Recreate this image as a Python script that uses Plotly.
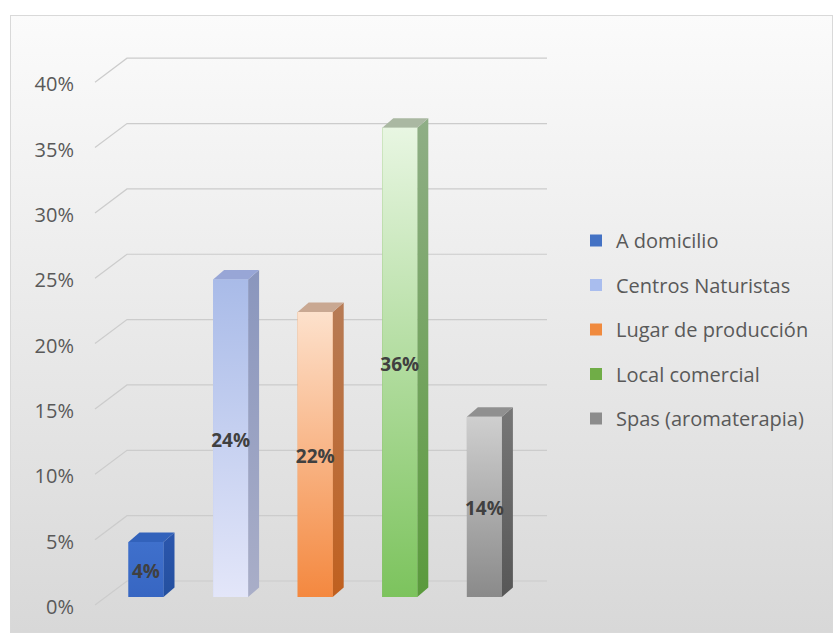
import base64
import plotly.graph_objects as go

# ---- data -------------------------------------------------------------
categories = [
    "A domicilio",
    "Centros Naturistas",
    "Lugar de producción",
    "Local comercial",
    "Spas (aromaterapia)",
]
shares = [0.042, 0.243, 0.218, 0.359, 0.138]
y_ticks = [0.0, 0.05, 0.10, 0.15, 0.20, 0.25, 0.30, 0.35, 0.40]

# ---- colours ----------------------------------------------------------
legend_colors = ["#4472c4", "#a9bdee", "#f08a3e", "#70ad47", "#8c8c8c"]
front_top = ["#3f70cc", "#a9bbe8", "#fde1cc", "#e8f6e2", "#cfcfcf"]
front_bottom = ["#3766c2", "#e3e6f9", "#f4883f", "#7cc35d", "#8a8a8a"]
side_top = ["#2b56ad", "#8a96bd", "#b77b55", "#8fae86", "#777777"]
side_bottom = ["#24509f", "#a9aec8", "#c0601f", "#5a9a3c", "#575757"]
top_face = ["#3262bb", "#98a6d6", "#c9a892", "#aab8a2", "#909090"]

# ---- layout geometry (pixels) -----------------------------------------
W, H = 834, 638
X0_PX = 146          # centre of first column
X_STEP_PX = 84.6     # distance between columns
Y_BASE_PX = 597      # baseline of the columns
Y_UNIT_PX = 1307     # pixels per 100 %
AXIS_LEFT_PX = 78
BAR_W = 35 / X_STEP_PX
DX = 11 / X_STEP_PX          # column depth, horizontal
DY = 9.5 / Y_UNIT_PX         # column depth, vertical

x_range = [(AXIS_LEFT_PX - X0_PX) / X_STEP_PX, (W - X0_PX) / X_STEP_PX]
y_range = [(Y_BASE_PX - H) / Y_UNIT_PX, Y_BASE_PX / Y_UNIT_PX]

FONT = "Open Sans"

fig = go.Figure()

# legend-bearing columns
for i, (cat, v) in enumerate(zip(categories, shares)):
    fig.add_trace(go.Bar(
        x=[i], y=[v], width=BAR_W, name=cat, legendgroup=cat,
        marker=dict(color=legend_colors[i], line=dict(width=0)),
        hoverinfo="skip",
    ))

# 3-D shading: side face, top face, front face with gradient
for i, v in enumerate(shares):
    xl, xr = i - BAR_W / 2, i + BAR_W / 2
    fig.add_trace(go.Scatter(
        x=[xr, xr + DX, xr + DX, xr, xr], y=[0, DY, v + DY, v, 0],
        mode="lines", line=dict(width=0), fill="toself",
        fillgradient=dict(type="vertical",
                          colorscale=[[0, side_bottom[i]], [1, side_top[i]]]),
        showlegend=False, hoverinfo="skip",
    ))
    fig.add_trace(go.Scatter(
        x=[xl, xl + DX, xr + DX, xr, xl], y=[v, v + DY, v + DY, v, v],
        mode="lines", line=dict(width=0), fill="toself", fillcolor=top_face[i],
        showlegend=False, hoverinfo="skip",
    ))
    fig.add_trace(go.Scatter(
        x=[xl, xr, xr, xl, xl], y=[0, 0, v, v, 0],
        mode="lines", line=dict(width=0), fill="toself",
        fillgradient=dict(type="vertical",
                          colorscale=[[0, front_bottom[i]], [1, front_top[i]]]),
        showlegend=False, hoverinfo="skip",
    ))

# value labels
fig.add_trace(go.Scatter(
    x=list(range(len(shares))), y=[v / 2 - 0.003 for v in shares],
    text=[f"{v:.0%}" for v in shares], mode="text",
    textfont=dict(family=FONT, size=19, color="#404040", weight="bold"),
    showlegend=False, hoverinfo="skip",
))

# back-wall gridlines with the slanted floor edge
shapes = []
for t in y_ticks:
    shapes.append(dict(
        type="path", layer="below",
        xref="paper", xsizemode="pixel", xanchor=0,
        yref="y", ysizemode="pixel", yanchor=t,
        path="M95,-8 L127,16 L547,16",
        line=dict(color="#cccccc", width=1.2),
    ))

bg_svg = (
    f"<svg xmlns='http://www.w3.org/2000/svg' width='{W}' height='{H}'>"
    "<defs><linearGradient id='g' x1='0' y1='0' x2='0' y2='1'>"
    "<stop offset='0' stop-color='#fbfbfb'/><stop offset='1' stop-color='#d8d8d8'/>"
    "</linearGradient></defs>"
    "<rect x='10.5' y='15.5' width='822' height='617' fill='url(#g)' stroke='#d9d9d9'/>"
    "</svg>"
)
bg_uri = "data:image/svg+xml;base64," + base64.b64encode(bg_svg.encode()).decode()

fig.update_layout(
    width=W, height=H, autosize=False,
    margin=dict(l=0, r=0, t=0, b=0, pad=0),
    paper_bgcolor="white", plot_bgcolor="rgba(0,0,0,0)",
    barmode="overlay",
    shapes=shapes,
    images=[dict(source=bg_uri, xref="paper", yref="paper", x=0, y=1,
                 sizex=1, sizey=1, sizing="stretch", xanchor="left",
                 yanchor="top", layer="below")],
    xaxis=dict(domain=[AXIS_LEFT_PX / W, 1], range=x_range, visible=False,
               fixedrange=True),
    yaxis=dict(range=y_range, tickvals=y_ticks, tickformat=".0%",
               showgrid=False, zeroline=False, showline=False, ticks="",
               ticklabelshift=10, ticklabelstandoff=3, automargin=False,
               tickfont=dict(family=FONT, size=20, color="#595959")),
    legend=dict(x=576 / W, y=1 - 221 / H, xanchor="left", yanchor="top",
                bgcolor="rgba(0,0,0,0)", tracegroupgap=15.5,
                font=dict(family=FONT, size=20, color="#595959")),
    showlegend=True,
)

fig.write_html("out.html")
